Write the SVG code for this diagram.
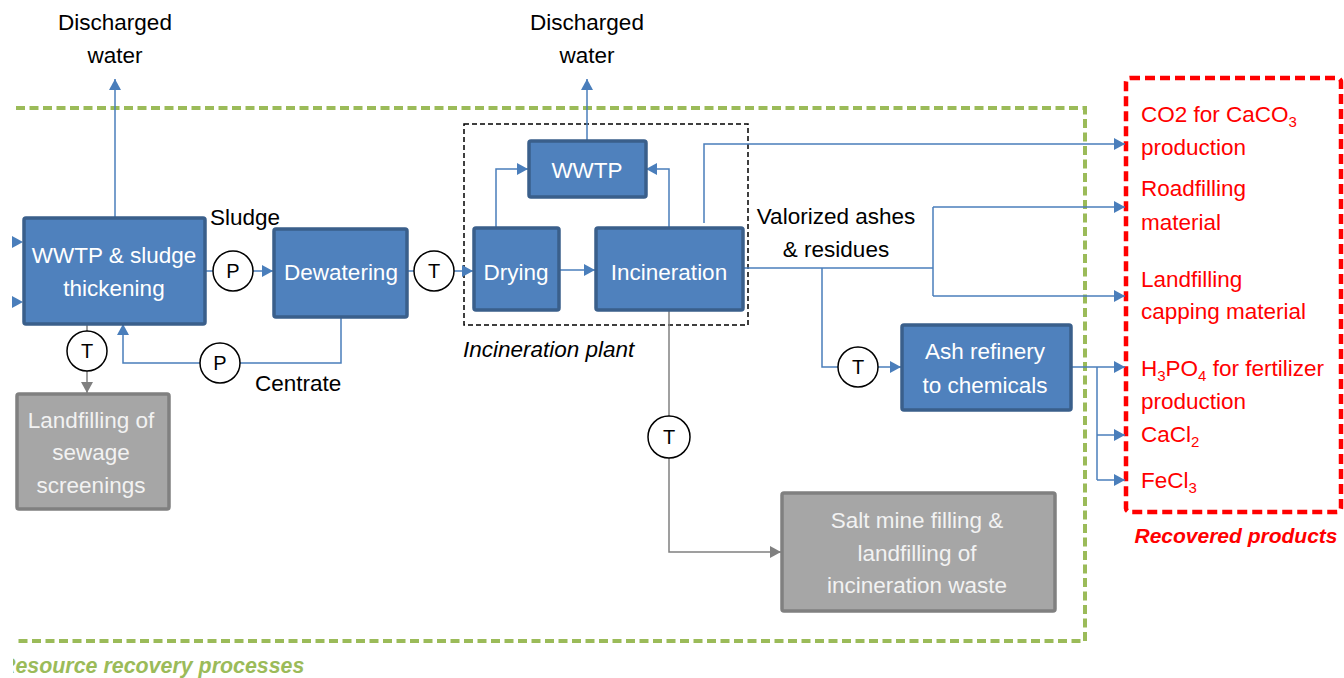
<svg xmlns="http://www.w3.org/2000/svg" width="1344" height="678" viewBox="0 0 1344 678">
<style>
.t{font-family:"Liberation Sans",Arial,sans-serif;font-size:22.5px;}
.w{fill:#ffffff;}
.g{fill:#f2f2f2;}
.k{fill:#000000;}
.r{fill:#ff0000;}
.blue{fill:#4f81bd;stroke:#3a5f8b;stroke-width:3.5;}
.grey{fill:#a6a6a6;stroke:#808080;stroke-width:3.5;}
.ln{fill:none;stroke:#4a7ebb;stroke-width:1.5;}
.lg{fill:none;stroke:#808080;stroke-width:1.5;}
.arr{marker-end:url(#ab);}
.arrg{marker-end:url(#ag);}
.circ{fill:#ffffff;stroke:#000000;stroke-width:1.5;}
.cl{font-family:"Liberation Sans",Arial,sans-serif;font-size:20px;fill:#000;text-anchor:middle;}
</style>
<defs>
<marker id="ab" markerUnits="userSpaceOnUse" markerWidth="12" markerHeight="12" refX="11" refY="6" orient="auto" overflow="visible">
<path d="M0,0 L11,6 L0,12 z" fill="#4a7ebb"/>
</marker>
<marker id="ag" markerUnits="userSpaceOnUse" markerWidth="12" markerHeight="12" refX="11" refY="6" orient="auto" overflow="visible">
<path d="M0,0 L11,6 L0,12 z" fill="#808080"/>
</marker>
<clipPath id="clipL"><rect x="13" y="640" width="400" height="38"/></clipPath>
</defs>

<!-- group boundaries -->
<g id="resource-recovery-boundary">
<path d="M16,108 H1085 V641 H16" fill="none" stroke="#9bbb59" stroke-width="4" stroke-dasharray="9,4.5"/>
<text x="0" y="673" clip-path="url(#clipL)" style="font-family:'Liberation Sans',Arial,sans-serif;font-size:21.4px;font-weight:bold;font-style:italic;fill:#9bbb59">Resource recovery processes</text>
</g>
<g id="recovered-products-boundary">
<rect x="1126" y="78" width="215" height="434" rx="4" fill="none" stroke="#ff0000" stroke-width="4.5" stroke-dasharray="10,5"/>
<text x="1236" y="543" text-anchor="middle" style="font-family:'Liberation Sans',Arial,sans-serif;font-size:21px;font-weight:bold;font-style:italic;fill:#ff0000">Recovered products</text>
</g>
<g id="incineration-plant-boundary">
<rect x="464" y="124" width="284" height="201" fill="none" stroke="#000000" stroke-width="1.5" stroke-dasharray="5,3"/>
<text x="463" y="357" class="t k" style="font-style:italic">Incineration plant</text>
</g>

<!-- connectors -->
<g id="connectors">
<path class="ln" d="M0,242 H23" marker-end="url(#ab)" stroke-opacity="0"/>
<path class="ln" d="M0,302 H23" marker-end="url(#ab)" stroke-opacity="0"/>
<path class="ln arr" d="M115,217 V79"/>
<path class="ln arr" d="M587,141 V79"/>
<path class="ln" d="M205,271 H213"/>
<path class="ln arr" d="M253,271 H273"/>
<path class="ln" d="M407,271 H414"/>
<path class="ln arr" d="M454,271 H473"/>
<path class="ln arr" d="M559,270 H595"/>
<path class="ln arr" d="M496,227 V169 H528"/>
<path class="ln arr" d="M669,227 V169 H646"/>
<path class="ln" d="M341,317 V363 H240"/>
<path class="ln arr" d="M200,363 H123 V324"/>
<path class="lg" d="M87,324 V331"/>
<path class="lg arrg" d="M87,371 V393"/>
<path class="lg" d="M669,310 V416"/>
<path class="lg arrg" d="M669,458 V552 H781"/>
<path class="ln" d="M743,268 H933"/>
<path class="ln" d="M933,207 V296"/>
<path class="ln arr" d="M933,207 H1125"/>
<path class="ln arr" d="M933,296 H1125"/>
<path class="ln arr" d="M704,223 V144 H1125"/>
<path class="ln" d="M822,268 V367 H838"/>
<path class="ln arr" d="M878,367 H901"/>
<path class="ln arr" d="M1071,367 H1125"/>
<path class="ln" d="M1097,367 V480"/>
<path class="ln arr" d="M1097,435 H1125"/>
<path class="ln arr" d="M1097,480 H1125"/>
</g>

<!-- labels on connectors -->
<g id="labels">
<text class="t k" x="115" y="30" text-anchor="middle">Discharged</text>
<text class="t k" x="115" y="63" text-anchor="middle">water</text>
<text class="t k" x="587" y="30" text-anchor="middle">Discharged</text>
<text class="t k" x="587" y="63" text-anchor="middle">water</text>
<text class="t k" x="210" y="225">Sludge</text>
<text class="t k" x="255" y="391">Centrate</text>
<text class="t k" x="836" y="224" text-anchor="middle">Valorized ashes</text>
<text class="t k" x="836" y="257" text-anchor="middle">&amp; residues</text>
</g>

<!-- transport / pump symbols -->
<g id="pump-1"><circle class="circ" cx="233" cy="271" r="20"/><text class="cl" x="233" y="278">P</text></g>
<g id="pump-2"><circle class="circ" cx="220" cy="363" r="20"/><text class="cl" x="220" y="370">P</text></g>
<g id="transport-1"><circle class="circ" cx="87" cy="351" r="20"/><text class="cl" x="87" y="358">T</text></g>
<g id="transport-2"><circle class="circ" cx="434" cy="271" r="20"/><text class="cl" x="434" y="278">T</text></g>
<g id="transport-3"><circle class="circ" cx="858" cy="367" r="20"/><text class="cl" x="858" y="374">T</text></g>
<g id="transport-4"><circle class="circ" cx="669" cy="437" r="21"/><text class="cl" x="669" y="444">T</text></g>

<!-- nodes -->
<g id="wwtp-sludge-thickening">
<rect class="blue" x="24" y="218" width="181" height="106" rx="2"/>
<text class="t w" x="114" y="263" text-anchor="middle">WWTP &amp; sludge</text>
<text class="t w" x="114" y="296" text-anchor="middle">thickening</text>
</g>
<g id="landfilling-screenings">
<rect class="grey" x="17" y="394" width="152" height="115" rx="2"/>
<text class="t g" x="91" y="428" text-anchor="middle">Landfilling of</text>
<text class="t g" x="91" y="460" text-anchor="middle">sewage</text>
<text class="t g" x="91" y="493" text-anchor="middle">screenings</text>
</g>
<g id="dewatering">
<rect class="blue" x="274" y="229" width="133" height="88" rx="2"/>
<text class="t w" x="341" y="280" text-anchor="middle">Dewatering</text>
</g>
<g id="drying">
<rect class="blue" x="474" y="228" width="85" height="82" rx="2"/>
<text class="t w" x="516" y="280" text-anchor="middle">Drying</text>
</g>
<g id="incineration">
<rect class="blue" x="596" y="228" width="147" height="82" rx="2"/>
<text class="t w" x="669" y="280" text-anchor="middle">Incineration</text>
</g>
<g id="wwtp">
<rect class="blue" x="529" y="141" width="117" height="56" rx="2"/>
<text class="t w" x="587" y="178" text-anchor="middle">WWTP</text>
</g>
<g id="ash-refinery">
<rect class="blue" x="902" y="325" width="169" height="85" rx="2"/>
<text class="t w" x="985" y="359" text-anchor="middle">Ash refinery</text>
<text class="t w" x="985" y="393" text-anchor="middle">to chemicals</text>
</g>
<g id="salt-mine">
<rect class="grey" x="782" y="493" width="273" height="118" rx="2"/>
<text class="t g" x="917" y="528" text-anchor="middle">Salt mine filling &amp;</text>
<text class="t g" x="917" y="561" text-anchor="middle">landfilling of</text>
<text class="t g" x="917" y="593" text-anchor="middle">incineration waste</text>
</g>

<!-- recovered products -->
<g id="product-co2">
<text class="t r" x="1141" y="122">CO2 for CaCO<tspan font-size="15" dy="5">3</tspan></text>
<text class="t r" x="1141" y="155">production</text>
</g>
<g id="product-roadfilling">
<text class="t r" x="1141" y="196">Roadfilling</text>
<text class="t r" x="1141" y="230">material</text>
</g>
<g id="product-capping">
<text class="t r" x="1141" y="287">Landfilling</text>
<text class="t r" x="1141" y="319">capping material</text>
</g>
<g id="product-h3po4">
<text class="t r" x="1141" y="376">H<tspan font-size="15" dy="5">3</tspan><tspan dy="-5">PO</tspan><tspan font-size="15" dy="5">4</tspan><tspan dy="-5"> for fertilizer</tspan></text>
<text class="t r" x="1141" y="409">production</text>
</g>
<g id="product-cacl2">
<text class="t r" x="1141" y="442">CaCl<tspan font-size="15" dy="5">2</tspan></text>
</g>
<g id="product-fecl3">
<text class="t r" x="1141" y="488">FeCl<tspan font-size="15" dy="5">3</tspan></text>
</g>
</svg>
